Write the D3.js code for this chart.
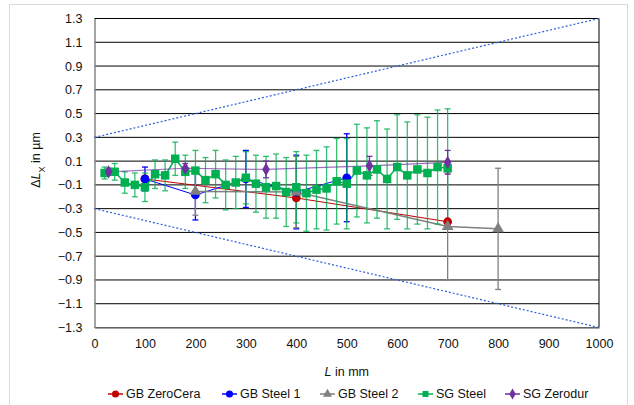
<!DOCTYPE html>
<html>
<head>
<meta charset="utf-8">
<script src="https://cdn.jsdelivr.net/npm/d3@7"></script>
<style>
body { margin: 0; background: #fff; }
text { font-family: "Liberation Sans", Arial, sans-serif; fill: #111; }
</style>
</head>
<body>
<div class="chart"></div>
<script>
// values
var xTicks = [0, 100, 200, 300, 400, 500, 600, 700, 800, 900, 1000];
var yTicks = [1.3, 1.1, 0.9, 0.7, 0.5, 0.3, 0.1, -0.1, -0.3, -0.5, -0.7, -0.9, -1.1, -1.3];

var zeroCeraX = [100, 400, 700];
var zeroCeraY = [-0.05, -0.21, -0.41];

var steel1X = [100, 200, 300, 400, 500];
var steel1Y = [-0.05, -0.185, -0.05, -0.16, -0.04];
var steel1Err = [0.10, 0.21, 0.24, 0.31, 0.37];

var steel2X = [200, 400, 700, 800];
var steel2Y = [-0.155, -0.16, -0.45, -0.47];
var steel2Err = [0.20, 0.30, 0.45, 0.51];

var sgSteelX = [20, 40, 60, 80, 100, 120, 140, 160, 180, 200, 220, 240, 260, 280, 300, 320, 340, 360,
    380, 400, 420, 440, 460, 480, 500, 520, 540, 560, 580, 600, 620, 640, 660, 680, 700];
var sgSteelY = [0.00, 0.01, -0.08, -0.10, -0.12, -0.01, -0.02, 0.12, 0.01, 0.02, -0.06, -0.01, -0.10, -0.08,
    -0.04, -0.09, -0.12, -0.11, -0.16, -0.12, -0.17, -0.14, -0.13, -0.07, -0.09, 0.02, -0.02, 0.03, -0.05,
    0.05, -0.02, 0.03, 0.00, 0.05, 0.04];
var sgSteelErr = [0.05, 0.07, 0.09, 0.10, 0.12, 0.12, 0.13, 0.14, 0.14, 0.17, 0.19, 0.20, 0.21, 0.22,
    0.22, 0.24, 0.26, 0.27, 0.29, 0.30, 0.32, 0.33, 0.35, 0.36, 0.38, 0.39, 0.40, 0.41, 0.42,
    0.44, 0.45, 0.46, 0.47, 0.48, 0.50];

var zerodurX = [28, 180, 340, 545, 700];
var zerodurY = [0.01, 0.04, 0.03, 0.06, 0.09];
var zerodurErr = [0.03, 0.04, 0.07, 0.08, 0.10];

var limitX = [0, 1000];
var upperLimit = [0.3, 1.3];
var lowerLimit = [-0.3, -1.3];

var width = 634, height = 405;
var plot = { left: 94.5, top: 18.5, right: 599, bottom: 327.5 };

var x = d3.scaleLinear().domain([0, 1000]).range([plot.left, plot.right]);
var y = d3.scaleLinear().domain([-1.3, 1.3]).range([plot.bottom, plot.top]);

function pts(xs, ys, errs) {
    return xs.map(function(v, i) { return { x: v, y: ys[i], e: errs ? errs[i] : 0 }; });
}

var series = [
    { name: "GB ZeroCera", color: "#C00000", shape: "circle", data: pts(zeroCeraX, zeroCeraY), lw: 1 },
    { name: "GB Steel 1", color: "#0000FF", shape: "circle", data: pts(steel1X, steel1Y, steel1Err), lw: 1 },
    { name: "GB Steel 2", color: "#808080", shape: "triangle", data: pts(steel2X, steel2Y, steel2Err), lw: 1.5 },
    { name: "SG Steel", color: "#00B050", shape: "square", data: pts(sgSteelX, sgSteelY, sgSteelErr), lw: 1.5 },
    { name: "SG Zerodur", color: "#7030A0", shape: "diamond", data: pts(zerodurX, zerodurY, zerodurErr), lw: 1.2 }
];

var svg = d3.select(".chart").append("svg")
    .attr("width", width)
    .attr("height", height);

svg.append("rect")
    .attr("x", 9.5).attr("y", 4.5)
    .attr("width", 618).attr("height", 420)
    .attr("fill", "#fff")
    .attr("stroke", "#d9d9d9");

// gridlines
svg.append("g").selectAll("line")
    .data(yTicks)
    .enter().append("line")
    .attr("x1", plot.left).attr("x2", plot.right)
    .attr("y1", function(d) { return y(d); })
    .attr("y2", function(d) { return y(d); })
    .attr("stroke", "#000")
    .attr("stroke-width", 1);

svg.append("line")
    .attr("x1", plot.right).attr("x2", plot.right)
    .attr("y1", plot.top).attr("y2", plot.bottom)
    .attr("stroke", "#000");

// axes
var yAxis = d3.axisLeft(y).tickValues(yTicks).tickSize(0).tickPadding(12)
    .tickFormat(d3.format(".1f"));
var gy = svg.append("g").attr("transform", "translate(" + plot.left + ",0)").call(yAxis);
gy.select(".domain").attr("stroke", "#868686").attr("stroke-width", 1.5);
gy.selectAll("text").style("font-size", "12.5px")
    .style("font-family", "'Liberation Sans', Arial, sans-serif").attr("fill", "#111");

var xAxis = d3.axisBottom(x).tickValues(xTicks).tickSize(0).tickPadding(12)
    .tickFormat(d3.format("d"));
var gx = svg.append("g").attr("transform", "translate(0," + plot.bottom + ")").call(xAxis);
gx.select(".domain").attr("stroke", "#868686").attr("stroke-width", 1.5);
gx.selectAll("text").style("font-size", "12.5px")
    .style("font-family", "'Liberation Sans', Arial, sans-serif").attr("fill", "#111");

// tolerance lines
[upperLimit, lowerLimit].forEach(function(lim) {
    svg.append("line")
        .attr("x1", x(limitX[0])).attr("y1", y(lim[0]))
        .attr("x2", x(limitX[1])).attr("y2", y(lim[1]))
        .attr("stroke", "#2E5FD8")
        .attr("stroke-width", 1.2)
        .attr("stroke-dasharray", "2,2");
});

var line = d3.line().x(function(d) { return x(d.x); }).y(function(d) { return y(d.y); });

// lines and error bars
series.forEach(function(s) {
    var g = svg.append("g");
    g.append("path")
        .datum(s.data)
        .attr("d", line)
        .attr("fill", "none")
        .attr("stroke", s.color)
        .attr("stroke-opacity", s.name == "SG Zerodur" ? 0.7 : 1)
        .attr("stroke-width", s.lw);
    var eb = g.selectAll(".err")
        .data(s.data.filter(function(d) { return d.e > 0; }))
        .enter().append("g")
        .attr("stroke", s.color)
        .attr("stroke-opacity", s.name == "SG Steel" ? 0.8 : 1)
        .attr("stroke-width", 1.3);
    eb.append("line")
        .attr("x1", function(d) { return x(d.x); })
        .attr("x2", function(d) { return x(d.x); })
        .attr("y1", function(d) { return y(d.y + d.e); })
        .attr("y2", function(d) { return y(d.y - d.e); });
    eb.append("line")
        .attr("x1", function(d) { return x(d.x) - 3; })
        .attr("x2", function(d) { return x(d.x) + 3; })
        .attr("y1", function(d) { return y(d.y + d.e); })
        .attr("y2", function(d) { return y(d.y + d.e); });
    eb.append("line")
        .attr("x1", function(d) { return x(d.x) - 3; })
        .attr("x2", function(d) { return x(d.x) + 3; })
        .attr("y1", function(d) { return y(d.y - d.e); })
        .attr("y2", function(d) { return y(d.y - d.e); });
});

var symbols = {
    circle: d3.symbol().type(d3.symbolCircle).size(60),
    square: d3.symbol().type(d3.symbolSquare).size(72),
    triangle: d3.symbol().type(d3.symbolTriangle).size(60),
    diamond: d3.symbol().type(d3.symbolDiamond).size(50)
};

// markers, drawn in the stacking order seen in the picture
var markerOrder = ["GB ZeroCera", "GB Steel 1", "GB Steel 2", "SG Steel", "SG Zerodur"];
markerOrder.forEach(function(name) {
    var s = series.find(function(t) { return t.name == name; });
    svg.append("g").selectAll("path")
        .data(s.data)
        .enter().append("path")
        .attr("d", symbols[s.shape])
        .attr("transform", function(d) { return "translate(" + x(d.x) + "," + y(d.y) + ")"; })
        .attr("fill", s.color);
});

// axis titles
var xt = svg.append("text")
    .attr("x", (plot.left + plot.right) / 2)
    .attr("y", 376)
    .attr("text-anchor", "middle")
    .style("font-size", "12.5px");
xt.append("tspan").style("font-style", "italic").text("L");
xt.append("tspan").text(" in mm");

var yt = svg.append("text")
    .attr("transform", "translate(40,160) rotate(-90)")
    .attr("text-anchor", "middle")
    .style("font-size", "12.5px");
yt.append("tspan").text("\u0394");
yt.append("tspan").style("font-style", "italic").text("L");
yt.append("tspan").attr("baseline-shift", "sub").style("font-size", "9px").text("X");
yt.append("tspan").text(" in \u00b5m");

// legend
var legendX = [108, 222, 320, 418, 505];
var legend = svg.append("g").selectAll("g")
    .data(series)
    .enter().append("g")
    .attr("transform", function(d, i) { return "translate(" + legendX[i] + ",394)"; });
legend.append("line")
    .attr("x1", 0).attr("x2", 15)
    .attr("stroke", function(d) { return d.color; })
    .attr("stroke-width", 1.5);
legend.append("path")
    .attr("d", function(d) { return symbols[d.shape].size(d.shape == "circle" ? 40 : 36)(); })
    .attr("transform", "translate(7.5,0)")
    .attr("fill", function(d) { return d.color; });
legend.append("text")
    .attr("x", 18)
    .attr("dy", "0.35em")
    .style("font-size", "12.5px")
    .text(function(d) { return d.name; });
</script>
</body>
</html>
